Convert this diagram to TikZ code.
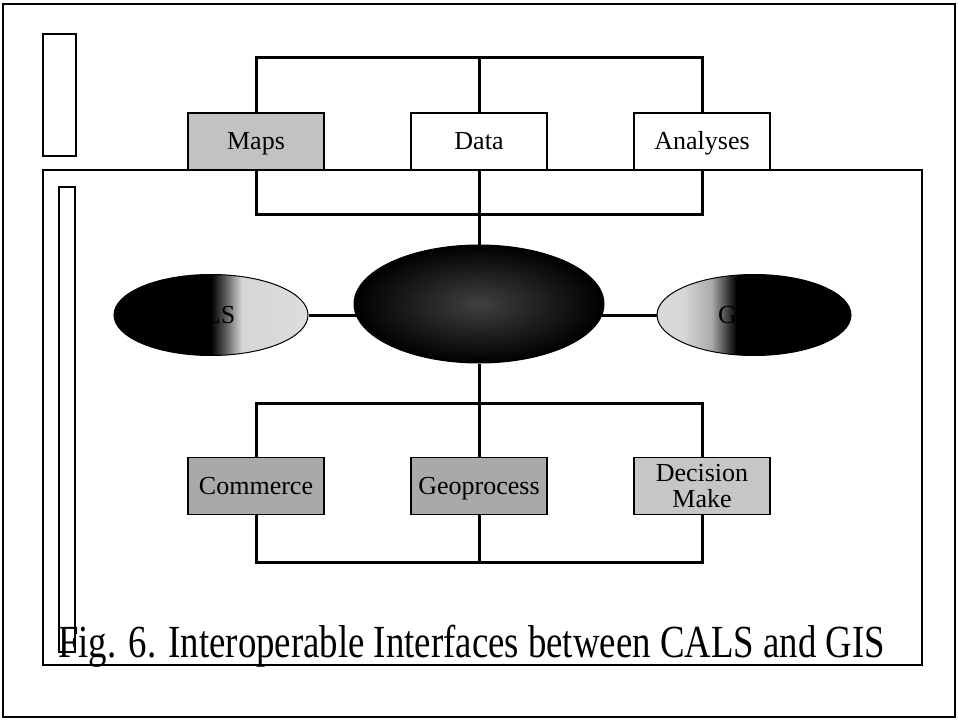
\documentclass[tikz,border=0pt]{standalone}
\usepackage{fontspec}
\setmainfont{Liberation Serif}
\usepackage{graphicx}
\usepackage{tikz}
\usetikzlibrary{shapes.geometric,backgrounds}
\definecolor{ink}{HTML}{000000}
\definecolor{paper}{HTML}{FFFFFF}
\definecolor{mapsbg}{HTML}{C2C2C2}
\definecolor{procbg}{HTML}{A9A9A9}
\definecolor{decbg}{HTML}{C6C6C6}
\definecolor{lite}{HTML}{D6D6D6}
\pgfdeclarehorizontalshading{calsfade}{100bp}{color(0bp)=(black); color(50bp)=(black); color(53.5bp)=(lite!40!black); color(58bp)=(lite); color(100bp)=(lite!60!white)}
\pgfdeclarehorizontalshading{gisfade}{100bp}{color(0bp)=(lite!60!white); color(32bp)=(lite); color(39bp)=(lite!80!black); color(45.5bp)=(black); color(100bp)=(black)}
\tikzset{
  wire/.style={draw=ink, line width=3pt},
  frame/.style={draw=ink, line width=1.4pt},
  box/.style={rectangle, draw=ink, line width=1.4pt, minimum width=136pt, minimum height=57pt, inner sep=1pt, align=center, font=\fontsize{26}{26}\selectfont},
  one/.style={text height=20pt, text depth=4pt},
  blob/.style={ellipse, draw=ink, line width=1pt, inner sep=0pt},
  blobtxt/.style={inner sep=0pt, text=ink, font=\fontsize{26}{26}\selectfont},
  figcap/.style={anchor=base west, inner sep=0pt, font=\fontsize{46}{48}\selectfont},
}

\begin{document}
\begin{tikzpicture}[x=1pt,y=-1pt]
  \useasboundingbox (0,0) rectangle (958,722);
  \draw[frame, line width=2pt] (3,4) rectangle (955,717);
  \draw[frame] (43,34) rectangle (76,156);
  \draw[frame] (43,170) rectangle (922,665);
  \draw[frame] (59,187) rectangle (75,652);

  % top row
  \node[box, one, fill=mapsbg] (maps) at (256,141.5) {Maps};
  \node[box, one, fill=paper] (data) at (479,141.5) {Data};
  \node[box, one, fill=paper] (anl) at (702,141.5) {Analyses};

  % ellipses
  \node[blob, minimum width=250pt, minimum height=118pt, shading=radial, inner color=black!75, outer color=black] (core) at (479,304) {};
  \node[blob, minimum width=194pt, minimum height=81pt, shading=calsfade] (cals) at (211,315) {};
  \node[blob, minimum width=194pt, minimum height=81pt, shading=gisfade] (gis) at (754,315) {};
  \node[blobtxt] (calstxt) at ([xshift=-9pt]cals.center) {CALS};
  \node[blobtxt] (gistxt) at ([xshift=-15pt]gis.center) {GIS};

  % bottom row
  \node[box, one, fill=procbg] (comm) at (256,486) {Commerce};
  \node[box, one, fill=procbg] (geo) at (479,486) {Geoprocess};
  \node[box, fill=decbg] (dec) at (702,486) {Decision\\Make};

  \coordinate (railtop) at (479,58);
  \coordinate (railup) at (479,215);
  \coordinate (raildn) at (479,403);
  \coordinate (railbot) at (479,562);

  \begin{scope}[on background layer]
    \draw[wire] (maps.north) |- (railtop) -| (anl.north);
    \draw[wire] (data.north) -- (railtop);
    \draw[wire] (maps.south) |- (railup) -| (anl.south);
    \draw[wire] (data.south) -- (core.north);
    \draw[wire] (cals.east) -- (cals.east -| core.center);
    \draw[wire] (gis.west) -- (gis.west -| core.center);
    \draw[wire] (core.south) -- (geo.north);
    \draw[wire] (comm.north) |- (raildn) -| (dec.north);
    \draw[wire] (comm.south) |- (railbot) -| (dec.south);
    \draw[wire] (geo.south) -- (railbot);
  \end{scope}

  \node[figcap] (title) at (58,657) {\scalebox{0.8}[1]{Fig. 6. Interoperable Interfaces between CALS and GIS}};
\end{tikzpicture}
\end{document}
